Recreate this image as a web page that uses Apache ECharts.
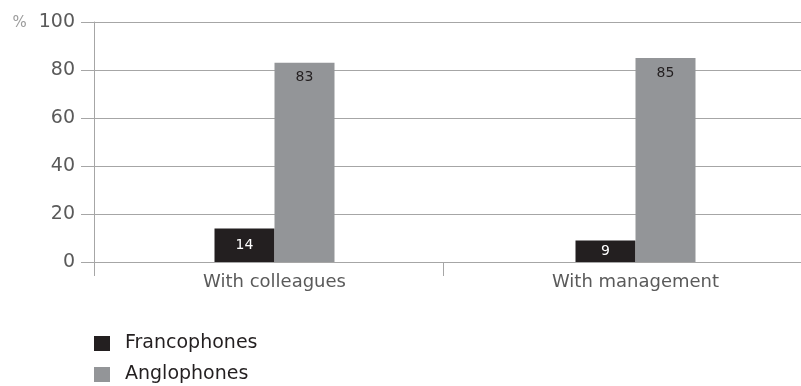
<!DOCTYPE html>
<html>
<head>
<meta charset="utf-8">
<script src="https://cdn.jsdelivr.net/npm/echarts@6/dist/echarts.min.js"></script>
<style>
  html, body { margin: 0; padding: 0; background: #ffffff; }
  #chart { width: 801px; height: 386px; }
</style>
</head>
<body>
<div id="chart"></div>
<script>
// Share of respondents (%) by who they communicate with
const categories = ['With colleagues', 'With management'];
const francophones = [14, 9];
const anglophones = [83, 85];
const yTicks = { min: 0, max: 100, interval: 20 };

const FONT = 'DejaVu Sans';
const AXIS_GREY = '#a6a6a6';
const TEXT_GREY = '#5a5a5a';

const chart = echarts.init(document.getElementById('chart'), null, { renderer: 'canvas' });

chart.setOption({
  animation: false,
  textStyle: { fontFamily: FONT },
  grid: [
    // plotting area for the bars (runs past the right edge of the canvas)
    { left: 94, top: 22, right: -15, height: 240, containLabel: false, outerBoundsMode: 'none' },
    // narrower frame that carries the category divider ticks
    { left: 94, top: 22, width: 349, height: 240, containLabel: false, outerBoundsMode: 'none' }
  ],
  legend: {
    orient: 'vertical',
    left: 94,
    top: 334,
    height: 60,
    padding: 0,
    icon: 'rect',
    itemWidth: 16,
    itemHeight: 15,
    itemGap: 12,
    textStyle: { fontFamily: FONT, fontSize: 19, color: '#231f20', padding: [0, 0, 0, 10] },
    data: ['Francophones', 'Anglophones']
  },
  xAxis: [
    {
      type: 'category',
      gridIndex: 0,
      data: categories,
      axisLine: { show: true, lineStyle: { color: AXIS_GREY, width: 1 } },
      axisTick: { show: false },
      axisLabel: { fontFamily: FONT, fontSize: 18, color: TEXT_GREY, margin: 11 }
    },
    {
      type: 'category',
      gridIndex: 1,
      data: [''],
      axisLine: { show: false },
      axisTick: { show: true, length: 14, lineStyle: { color: AXIS_GREY, width: 1 } },
      axisLabel: { show: false }
    }
  ],
  yAxis: [
    {
      type: 'value',
      gridIndex: 0,
      min: yTicks.min,
      max: yTicks.max,
      interval: yTicks.interval,
      axisLine: { show: true, lineStyle: { color: AXIS_GREY, width: 1 } },
      axisTick: { show: true, length: 13, lineStyle: { color: AXIS_GREY, width: 1 } },
      splitLine: { show: true, lineStyle: { color: AXIS_GREY, width: 1 } },
      axisLabel: {
        fontFamily: FONT,
        fontSize: 19,
        color: TEXT_GREY,
        margin: 19,
        formatter: function (v) {
          return v === yTicks.max ? '{p|%}' + v : String(v);
        },
        rich: {
          p: { fontFamily: FONT, fontSize: 15, color: '#9b9b9b', padding: [3, 12, 0, 0] }
        }
      }
    },
    {
      type: 'value',
      gridIndex: 1,
      min: 0,
      max: 100,
      show: false
    }
  ],
  series: [
    {
      name: 'Francophones',
      type: 'bar',
      xAxisIndex: 0,
      yAxisIndex: 0,
      data: francophones,
      barWidth: 60,
      barGap: '0%',
      itemStyle: { color: '#231f20' },
      label: {
        show: true,
        position: 'inside',
        color: '#ffffff',
        fontFamily: FONT,
        fontSize: 14
      }
    },
    {
      name: 'Anglophones',
      type: 'bar',
      xAxisIndex: 0,
      yAxisIndex: 0,
      data: anglophones,
      barWidth: 60,
      barGap: '0%',
      itemStyle: { color: '#939598' },
      label: {
        show: true,
        position: 'insideTop',
        distance: 8,
        color: '#231f20',
        fontFamily: FONT,
        fontSize: 14
      }
    }
  ]
});
</script>
</body>
</html>
